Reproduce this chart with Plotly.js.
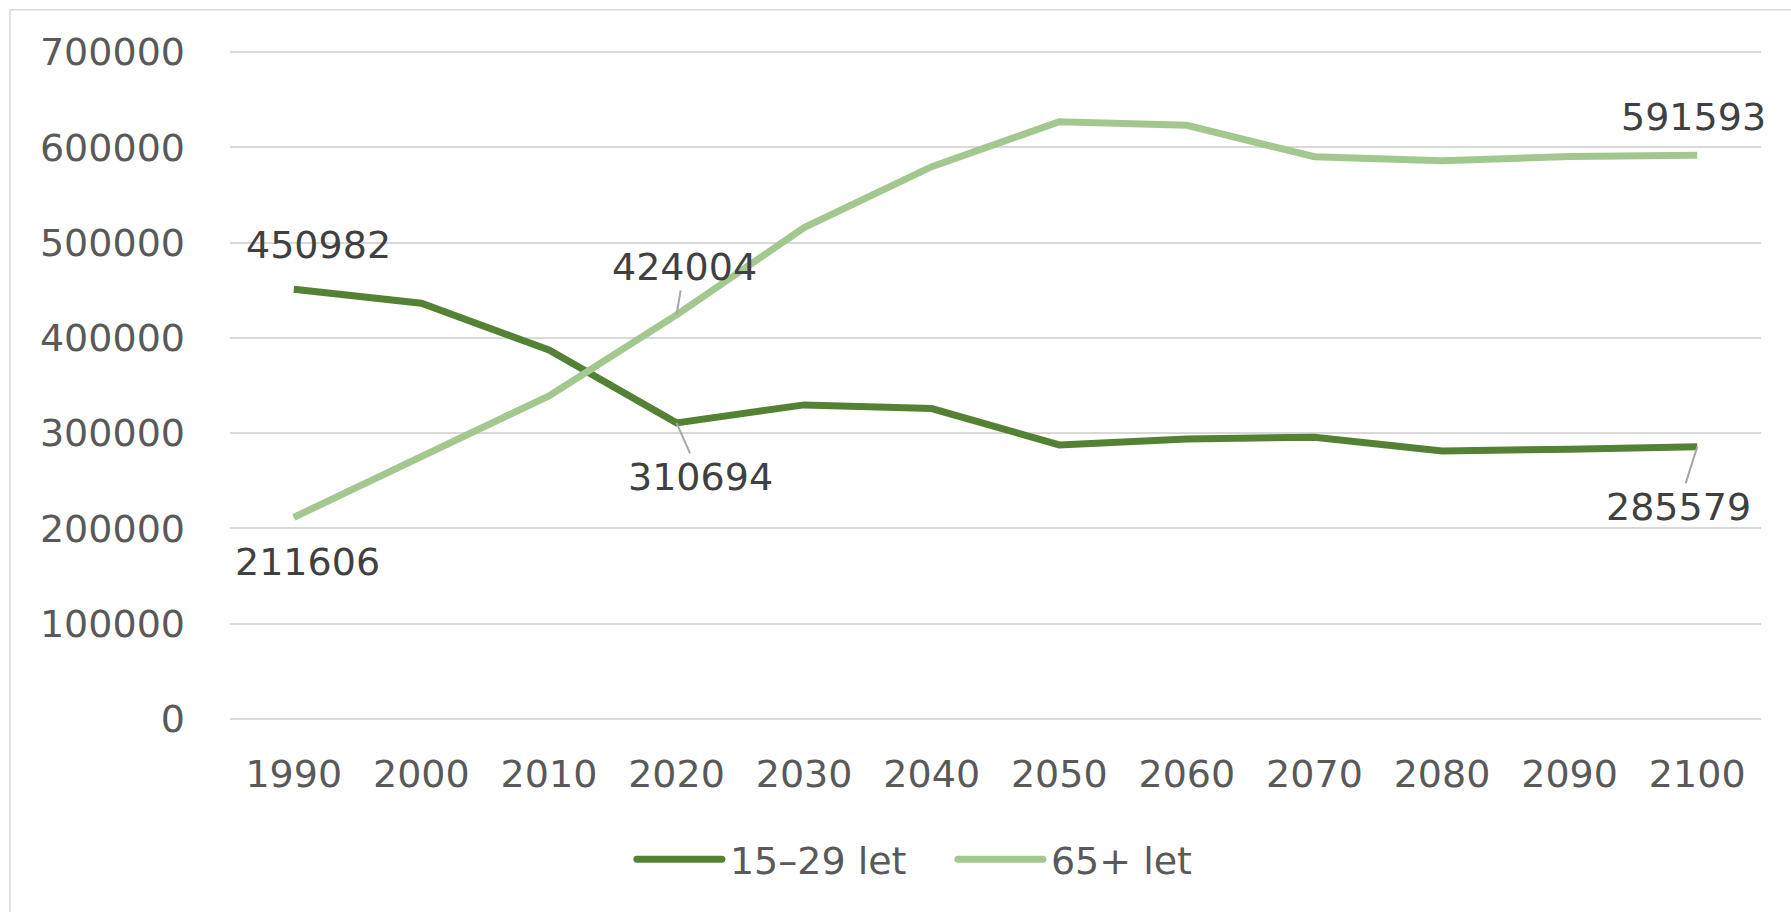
<!DOCTYPE html>
<html>
<head>
<meta charset="utf-8">
<script src="https://cdn.plot.ly/plotly-3.0.1.min.js"></script>
<style>
  html, body { margin: 0; padding: 0; background: #ffffff; }
  #chart { width: 1791px; height: 912px; }
</style>
</head>
<body>
<div id="chart"></div>
<script>
// ---- data ----
var years = ['1990', '2000', '2010', '2020', '2030', '2040', '2050', '2060', '2070', '2080', '2090', '2100'];
var seriesNames = ['15\u201329 let', '65+ let'];
var young = [450982, 436300, 387300, 310694, 329600, 325700, 287600, 293900, 295700, 281300, 283100, 285579];
var old = [211606, 275400, 339000, 424004, 515600, 579600, 626800, 623000, 590000, 585900, 590300, 591593];
var yTicks = [0, 100000, 200000, 300000, 400000, 500000, 600000, 700000];

// ---- style ----
var FONT = 'DejaVu Sans, Open Sans, sans-serif';
var darkGreen = '#548235';
var lightGreen = '#A3C88F';
var labelColor = '#404040';
var axisColor = '#595959';

var traces = [
  { x: years, y: young, name: seriesNames[0], type: 'scatter', mode: 'lines',
    line: { color: darkGreen, width: 7 }, hoverinfo: 'x+y' },
  { x: years, y: old, name: seriesNames[1], type: 'scatter', mode: 'lines',
    line: { color: lightGreen, width: 7 }, hoverinfo: 'x+y' }
];

// annotations reference the category by its serial index on the category axis
function plain(idx, series, xs, ys) {
  return { x: idx, y: series[idx], xref: 'x', yref: 'y', text: String(series[idx]),
    showarrow: false, xshift: xs, yshift: ys,
    font: { family: FONT, size: 38, color: labelColor } };
}
function leader(idx, series, ax, ay) {
  return { x: idx, y: series[idx], xref: 'x', yref: 'y', text: String(series[idx]),
    showarrow: true, arrowhead: 0, arrowwidth: 2, arrowcolor: '#A6A6A6',
    ax: ax, ay: ay, standoff: 0,
    font: { family: FONT, size: 38, color: labelColor } };
}

var annotations = [
  plain(0, young, 25, 44),
  plain(0, old, 14, -45),
  leader(3, old, 8, -48),
  leader(3, young, 24, 54),
  plain(years.length - 1, old, -4, 38),
  leader(years.length - 1, young, -19, 60)
];

var layout = {
  width: 1791, height: 912, autosize: false,
  margin: { l: 230, r: 30, t: 50, b: 193, pad: 0 },
  paper_bgcolor: '#ffffff', plot_bgcolor: '#ffffff',
  font: { family: FONT, size: 38, color: axisColor },
  showlegend: true,
  legend: {
    orientation: 'h', x: 0.2625, xanchor: 'left', y: -0.21, yanchor: 'middle',
    font: { family: FONT, size: 38, color: axisColor },
    itemwidth: 88, entrywidth: 218, entrywidthmode: 'pixels',
    bgcolor: 'rgba(0,0,0,0)', borderwidth: 0, tracegroupgap: 0
  },
  xaxis: {
    type: 'category', range: [-0.5, 11.5], showgrid: false, zeroline: false,
    showline: false, ticks: '', ticklabelstandoff: 29,
    tickfont: { family: FONT, size: 38, color: axisColor }, fixedrange: true
  },
  yaxis: {
    range: [0, 702000], tickmode: 'array', tickvals: yTicks,
    ticktext: yTicks.map(String), showgrid: true, gridcolor: '#D9D9D9', gridwidth: 2,
    zeroline: true, zerolinecolor: '#D9D9D9', zerolinewidth: 2, showline: false,
    ticks: '', ticklabelstandoff: 44,
    tickfont: { family: FONT, size: 38, color: axisColor }, fixedrange: true
  },
  annotations: annotations,
  shapes: [
    { type: 'rect', xref: 'paper', yref: 'paper', x0: -0.1437, x1: 1.08, y0: -0.35, y1: 1.06,
      line: { color: '#D9D9D9', width: 1.5 }, fillcolor: 'rgba(0,0,0,0)', layer: 'below' }
  ]
};

function fixLegend() {
  var lines = document.querySelectorAll('#chart .legend .legendlines path');
  lines.forEach(function (p) {
    p.setAttribute('d', 'M5,0h85');
    p.style.strokeLinecap = 'round';
  });
}

Plotly.newPlot('chart', traces, layout, { displayModeBar: false, staticPlot: true }).then(function (gd) {
  fixLegend();
  gd.on('plotly_afterplot', fixLegend);
});
</script>
</body>
</html>
